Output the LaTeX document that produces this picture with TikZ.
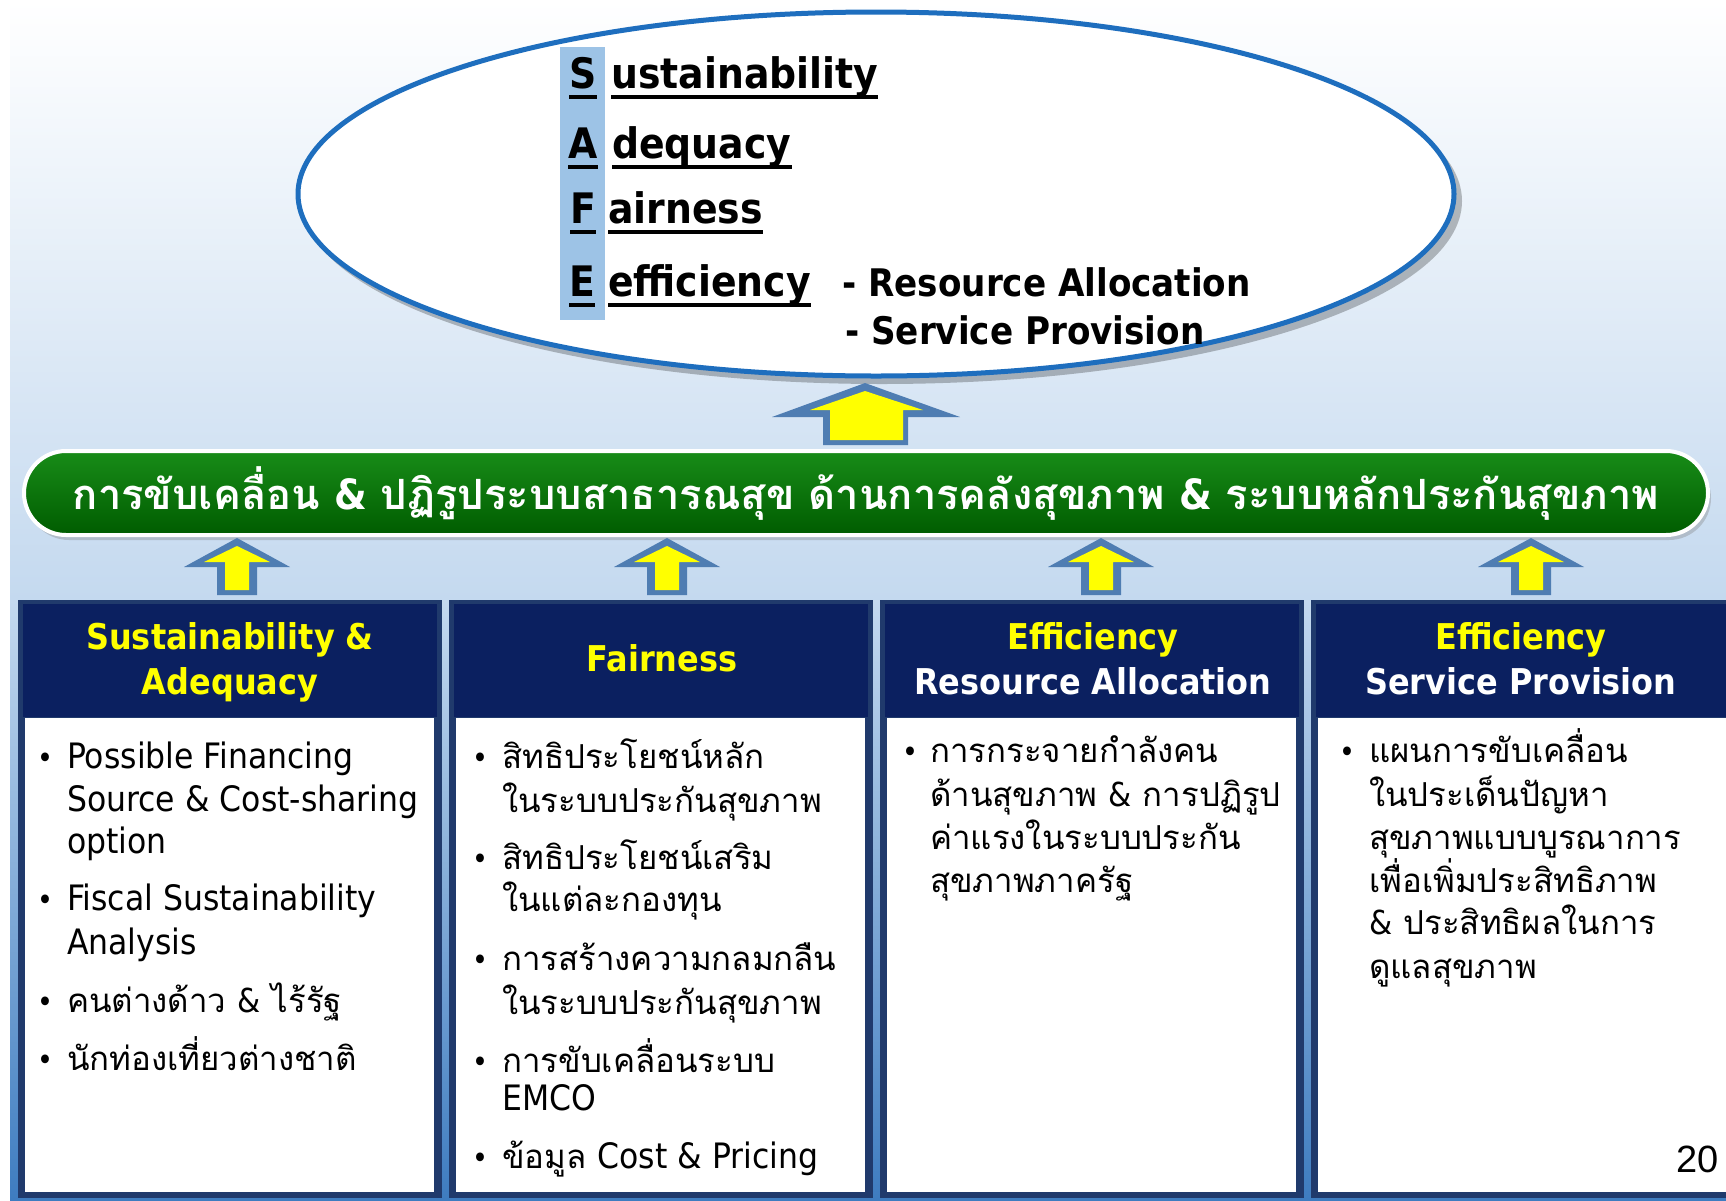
\documentclass[tikz,border=0pt]{standalone}
\usepackage{fontspec}
\setmainfont{DejaVu Sans Condensed}
\newfontfamily\lat{DejaVu Sans Condensed}
\newfontfamily\thai[Script=Thai]{Loma}
\newfontfamily\arialf{Liberation Sans}
\usetikzlibrary{calc,shadows}
\definecolor{bgA}{RGB}{196,217,239}
\definecolor{bgB}{RGB}{62,124,192}
\definecolor{ellblue}{RGB}{30,110,190}
\definecolor{stripblue}{RGB}{157,195,230}
\definecolor{arrblue}{RGB}{79,125,178}
\definecolor{ayellow}{RGB}{255,255,0}
\definecolor{gtop}{RGB}{24,140,24}
\definecolor{gbot}{RGB}{0,92,0}
\definecolor{navy}{RGB}{11,32,96}
\definecolor{navyb}{RGB}{32,58,108}
\begin{document}
\begin{tikzpicture}[x=1pt,y=-1pt,
  safe/.style={font=\fontsize{42}{44}\selectfont\bfseries, inner sep=0, anchor=base west},
  safeb/.style={font=\fontsize{38}{44}\selectfont\bfseries, inner sep=0, anchor=base west},
  hdr/.style={font=\fontsize{35.5}{40}\selectfont\bfseries, inner sep=0, anchor=base},
  bodyl/.style={font=\fontsize{35}{44}\selectfont, inner sep=0, anchor=base west},
  bodyt/.style={font=\thai\fontsize{33}{44}\selectfont, inner sep=0, anchor=base west},
  bul/.style={font=\fontsize{30}{44}\selectfont, inner sep=0, anchor=base west},
  ul/.style={line width=3.5pt},
  banner/.style={draw=white, line width=4pt, rounded corners=42pt, minimum width=1684pt,
    minimum height=84pt, top color=gtop, bottom color=gbot, inner sep=0,
    drop shadow={shadow xshift=3pt, shadow yshift=-5pt, opacity=.35}},
]
\useasboundingbox (0,0) rectangle (1726,1200);
% background
\fill[white] (0,0) rectangle (1726,1200);
\shade[top color=white, bottom color=bgA] (10,0) rectangle (1726,600);
\shade[top color=bgA, bottom color=bgB] (10,600) rectangle (1726,1200);

% ellipse
\fill[black, opacity=.25] (882,201) ellipse [x radius=580, y radius=183];
\draw[ellblue, line width=5pt, fill=white] (876,194) ellipse [x radius=578, y radius=182];
\fill[stripblue] (560,47) rectangle (605,320);

\node[safe] (sS) at (569,88) {S};
\node[safe] (wS) at (611,88) {ustainability};
\node[safe] (sA) at (568,158) {A};
\node[safe] (wA) at (612,158) {dequacy};
\node[safe] (sF) at (570,223) {F};
\node[safe] (wF) at (608,223) {airness};
\node[safe] (sE) at (569,296) {E};
\node[safe] (wE) at (608,296) {efficiency};
\node[safeb] (rA) at (842,296) {- Resource Allocation};
\node[safeb] (sP) at (845,344) {- Service Provision};
\foreach \n in {sS,wS,sA,wA,sF,wF,sE,wE}
  \draw[ul] ($(\n.base west)+(0,9)$) -- ($(\n.base east)+(0,9)$);

% big arrow
\fill[arrblue] (865,383) -- (960,417) -- (908,417) -- (908,445) -- (823,445) -- (823,417) -- (772,417) -- cycle;
\fill[ayellow] (865,391) -- (923,410) -- (903,410) -- (903,440) -- (830,440) -- (830,410) -- (810,410) -- cycle;

% banner
\node[banner] (ban) at (866,493) {};
\node[font=\thai\fontsize{41.7}{44}\selectfont\bfseries, text=white, inner sep=0, anchor=base] (bant) at (866,509)
  {การขับเคลื่อน {\lat\&} ปฏิรูประบบสาธารณสุข ด้านการคลังสุขภาพ {\lat\&} ระบบหลักประกันสุขภาพ};

% small arrows
\foreach \cx in {237,667,1101,1531}{
  \fill[arrblue] (\cx,538) -- (\cx+53,567) -- (\cx+20,567) -- (\cx+20,595) -- (\cx-20,595) -- (\cx-20,567) -- (\cx-53,567) -- cycle;
  \fill[ayellow] (\cx,546) -- (\cx+33,562) -- (\cx+12,562) -- (\cx+12,590) -- (\cx-12,590) -- (\cx-12,562) -- (\cx-33,562) -- cycle;
}

% columns
\foreach \x in {18,449,880,1311}{
  \fill[navyb] (\x,600) rectangle ++(424,598);
  \fill[navy] (\x+5,604) rectangle ++(414,113);
  \fill[white] (\x+7,718) rectangle ++(409,474);
}

% headers
\node[hdr, text=ayellow] (h1a) at (230,649) {Sustainability \&};
\node[hdr, text=ayellow] (h1b) at (230,694) {Adequacy};
\node[hdr, text=ayellow] (h2a) at (662,671) {Fairness};
\node[hdr, text=ayellow] (h3a) at (1093,649) {Efficiency};
\node[hdr, text=white] (h3b) at (1093,694) {Resource Allocation};
\node[hdr, text=ayellow] (h4a) at (1521,649) {Efficiency};
\node[hdr, text=white] (h4b) at (1521,694) {Service Provision};

% column 1
\node[bul] (b11) at (37,768) {•};
\node[bodyl] (c1a) at (67,768) {Possible Financing};
\node[bodyl] (c1b) at (67,811) {Source \& Cost-sharing};
\node[bodyl] (c1c) at (67,853) {option};
\node[bul] (b12) at (37,910) {•};
\node[bodyl] (c1d) at (67,910) {Fiscal Sustainability};
\node[bodyl] (c1e) at (67,954) {Analysis};
\node[bul] (b13) at (37,1012) {•};
\node[bodyt] (c1f) at (67,1012) {คนต่างด้าว {\lat\&} ไร้รัฐ};
\node[bul] (b14) at (37,1070) {•};
\node[bodyt] (c1g) at (67,1070) {นักท่องเที่ยวต่างชาติ};

% column 2
\node[bul] (b21) at (472,768) {•};
\node[bodyt] (c2a) at (502,768) {สิทธิประโยชน์หลัก};
\node[bodyt] (c2b) at (502,812) {ในระบบประกันสุขภาพ};
\node[bul] (b22) at (472,869) {•};
\node[bodyt] (c2c) at (502,869) {สิทธิประโยชน์เสริม};
\node[bodyt] (c2d) at (502,911) {ในแต่ละกองทุน};
\node[bul] (b23) at (472,970) {•};
\node[bodyt] (c2e) at (502,970) {การสร้างความกลมกลืน};
\node[bodyt] (c2f) at (502,1014) {ในระบบประกันสุขภาพ};
\node[bul] (b24) at (472,1072) {•};
\node[bodyt] (c2g) at (502,1072) {การขับเคลื่อนระบบ};
\node[bodyl] (c2h) at (502,1110) {EMCO};
\node[bul] (b25) at (472,1168) {•};
\node[bodyt] (c2i) at (502,1168) {ข้อมูล {\lat\fontsize{35}{44}\selectfont Cost \& Pricing}};

% column 3
\node[bul] (b31) at (902,762) {•};
\node[bodyt] (c3a) at (930,762) {การกระจายกำลังคน};
\node[bodyt] (c3b) at (930,806) {ด้านสุขภาพ {\lat\&} การปฏิรูป};
\node[bodyt] (c3c) at (930,849) {ค่าแรงในระบบประกัน};
\node[bodyt] (c3d) at (930,892) {สุขภาพภาครัฐ};

% column 4
\node[bul] (b41) at (1339,762) {•};
\node[bodyt] (c4a) at (1369,762) {แผนการขับเคลื่อน};
\node[bodyt] (c4b) at (1369,806) {ในประเด็นปัญหา};
\node[bodyt] (c4c) at (1369,849) {สุขภาพแบบบูรณาการ};
\node[bodyt] (c4d) at (1369,892) {เพื่อเพิ่มประสิทธิภาพ};
\node[bodyt] (c4e) at (1369,934) {{\lat\&} ประสิทธิผลในการ};
\node[bodyt] (c4f) at (1369,978) {ดูแลสุขภาพ};

\node[font=\arialf\fontsize{38}{40}\selectfont, inner sep=0, anchor=base east] (pg) at (1719,1172) {20};
\end{tikzpicture}
\end{document}
